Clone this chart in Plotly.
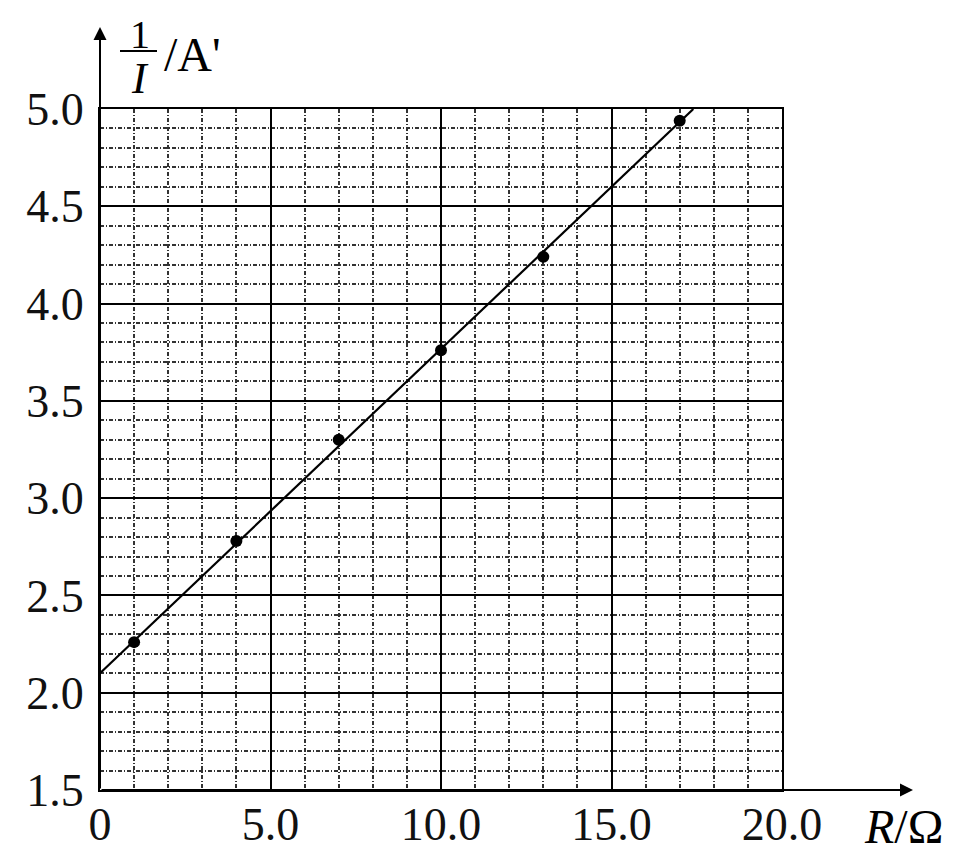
import plotly.graph_objects as go

# Data
R_values = [1.0, 4.0, 7.0, 10.0, 13.0, 17.0]
inv_I_values = [2.26, 2.78, 3.30, 3.76, 4.24, 4.94]

# Fitted straight line: intercept and slope, drawn over R range
fit_intercept = 2.1
fit_slope = 1.0 / 6.0
fit_R = [0.0, 17.4]
fit_inv_I = [fit_intercept + fit_slope * r for r in fit_R]

x_tick_vals = [0, 5, 10, 15, 20]
x_tick_text = ["0", "5.0", "10.0", "15.0", "20.0"]
y_tick_vals = [1.5, 2.0, 2.5, 3.0, 3.5, 4.0, 4.5, 5.0]
y_tick_text = ["1.5", "2.0", "2.5", "3.0", "3.5", "4.0", "4.5", "5.0"]

FONT = "Liberation Serif, Times New Roman, serif"

# The page body has an 8px margin; size the figure so it fits the window
OFF = 8
W, H = 960 - OFF, 855 - OFF
# screen-pixel plot box
PL, PR, PT, PB = 100, 782, 109, 790
L, R_, T, B = PL - OFF, 960 - PR, PT - OFF, 855 - PB

fig = go.Figure()
fig.add_trace(go.Scatter(x=fit_R, y=fit_inv_I, mode="lines",
                         line=dict(color="black", width=2.2),
                         hoverinfo="skip", showlegend=False))
fig.add_trace(go.Scatter(x=R_values, y=inv_I_values, mode="markers",
                         marker=dict(color="black", size=12, symbol="circle"),
                         showlegend=False))

minor_style = dict(showgrid=True, gridcolor="#333", gridwidth=1.6,
                   griddash="4px,2px,1px,2px")

fig.update_layout(
    width=W, height=H,
    margin=dict(l=L, r=R_, t=T, b=B, pad=0),
    plot_bgcolor="white", paper_bgcolor="white",
    font=dict(family=FONT, size=46, color="black"),
    xaxis=dict(range=[0, 20], tickvals=x_tick_vals, ticktext=x_tick_text,
               showgrid=True, gridcolor="black", gridwidth=2,
               zeroline=False, showline=True, linecolor="black", linewidth=2,
               mirror=True, ticks="", ticklabelstandoff=-7, automargin=False,
               tickfont=dict(family=FONT, size=46, color="#111"),
               minor=dict(dtick=1, **minor_style)),
    yaxis=dict(range=[1.5, 5.0], tickvals=y_tick_vals, ticktext=y_tick_text,
               showgrid=True, gridcolor="black", gridwidth=2,
               zeroline=False, showline=True, linecolor="black", linewidth=2,
               mirror=True, ticks="", ticklabelstandoff=5, automargin=False,
               tickfont=dict(family=FONT, size=46, color="#111"),
               minor=dict(dtick=0.1, **minor_style)),
)

pw, ph = PR - PL, PB - PT

def px(xs):
    return (xs - PL) / pw

def py(ys):
    return (PB - ys) / ph

# Axis arrows (tail offsets in pixels)
fig.add_annotation(xref="paper", yref="paper", x=0, y=py(27),
                   axref="pixel", ayref="pixel", ax=0, ay=PB - 27,
                   showarrow=True, arrowhead=2, arrowsize=1.3, arrowwidth=2,
                   arrowcolor="black", text="")
fig.add_annotation(xref="paper", yref="paper", x=px(913), y=0,
                   axref="pixel", ayref="pixel", ax=-(913 - PL), ay=0,
                   showarrow=True, arrowhead=2, arrowsize=1.3, arrowwidth=2,
                   arrowcolor="black", text="")

label_kw = dict(xref="paper", yref="paper", showarrow=False,
                xanchor="center", yanchor="middle", borderpad=0)

# Y-axis title: 1/I / A'
fig.add_annotation(x=px(140), y=py(34), text="1",
                   font=dict(family=FONT, size=40), **label_kw)
fig.add_shape(type="line", xref="paper", yref="paper",
              x0=px(120), x1=px(157), y0=py(51), y1=py(51),
              line=dict(color="black", width=2))
fig.add_annotation(x=px(140), y=py(78), text="<i>I</i>",
                   font=dict(family=FONT, size=44), **label_kw)
fig.add_annotation(x=px(192), y=py(54), text="/A'",
                   font=dict(family=FONT, size=48), **label_kw)

# X-axis title
fig.add_annotation(x=px(903), y=py(826), text="<i>R</i>/Ω",
                   font=dict(family=FONT, size=48), **label_kw)

fig.write_html("out.html")
